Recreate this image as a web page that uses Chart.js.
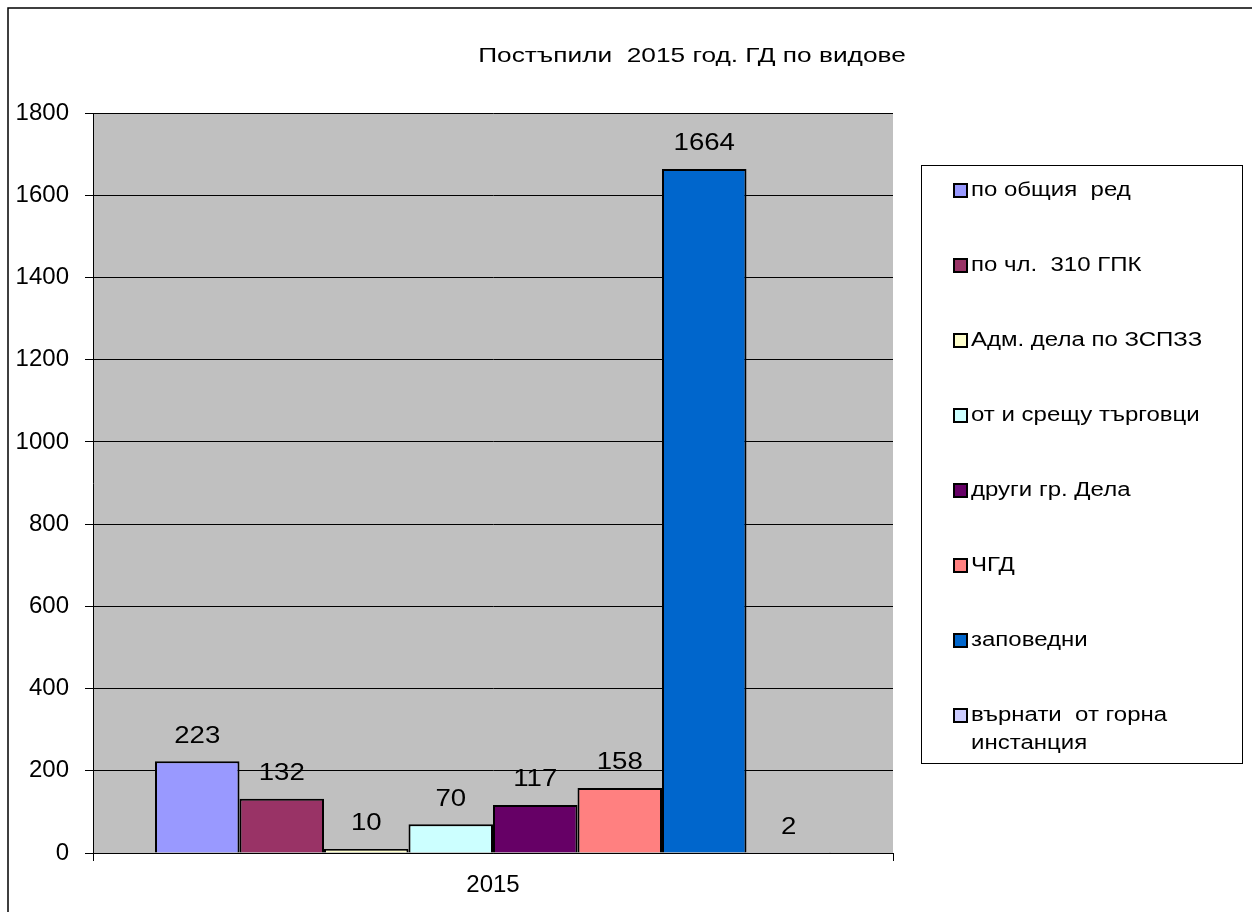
<!DOCTYPE html>
<html>
<head>
<meta charset="utf-8">
<script src="https://cdn.jsdelivr.net/npm/chart.js@4"></script>
<style>
  body { margin: 0; background: #fff; }
  #chart { display: block; }
</style>
</head>
<body>
<canvas id="chart" width="1252" height="912"></canvas>
<script>
// Данни за графиката
const chartTitle = 'Постъпили  2015 год. ГД по видове';
const categories = ['2015'];
const seriesNames = [
  'по общия  ред',
  'по чл.  310 ГПК',
  'Адм. дела по ЗСПЗЗ',
  'от и срещу търговци',
  'други гр. Дела',
  'ЧГД',
  'заповедни',
  'върнати  от горна инстанция'
];
const seriesValues = [223, 132, 10, 70, 117, 158, 1664, 2];
const seriesColors = ['#9999FF', '#993366', '#FFFFCC', '#CCFFFF', '#660066', '#FF8080', '#0066CC', '#CCCCFF'];
const yTicks = [0, 200, 400, 600, 800, 1000, 1200, 1400, 1600, 1800];

const FONT = 'Arial, "Liberation Sans", sans-serif';
const STRETCH = 1.2; // текстът в оригинала е разтеглен хоризонтално

// текст с хоризонтално разтягане
function wideText(ctx, text, x, y, k) {
  ctx.save();
  ctx.translate(x, y);
  ctx.scale(k || STRETCH, 1);
  ctx.fillText(text, 0, 0);
  ctx.restore();
}

// Сив фон на областта, рамка и заглавие
const backgroundPlugin = {
  id: 'plotBackground',
  beforeDraw(chart) {
    const { ctx, chartArea } = chart;
    ctx.save();
    ctx.fillStyle = '#C0C0C0';
    ctx.fillRect(chartArea.left, chartArea.top, chartArea.right - chartArea.left, chartArea.bottom - chartArea.top);
    ctx.strokeStyle = '#000';
    ctx.lineWidth = 1.5;
    ctx.beginPath();
    ctx.moveTo(8, chart.height);
    ctx.lineTo(8, 8);
    ctx.lineTo(chart.width, 8);
    ctx.stroke();
    ctx.fillStyle = '#000';
    ctx.font = '21px ' + FONT;
    ctx.textAlign = 'center';
    ctx.textBaseline = 'middle';
    wideText(ctx, chartTitle, 692, 56, 1.25);
    ctx.restore();
  }
};

// Стойности над стълбовете
const valueLabelsPlugin = {
  id: 'valueLabels',
  afterDatasetsDraw(chart) {
    const { ctx } = chart;
    ctx.save();
    ctx.fillStyle = '#000';
    ctx.font = '23px ' + FONT;
    ctx.textAlign = 'center';
    ctx.textBaseline = 'middle';
    chart.data.datasets.forEach((ds, i) => {
      const meta = chart.getDatasetMeta(i);
      meta.data.forEach((bar, j) => {
        wideText(ctx, String(ds.data[j]), bar.x, bar.y - 25);
      });
    });
    ctx.restore();
  }
};

// Легенда в рамка отдясно
const boxLegendPlugin = {
  id: 'boxLegend',
  afterDraw(chart) {
    const { ctx } = chart;
    const box = { x: 921.5, y: 165.5, w: 321, h: 598 };
    ctx.save();
    ctx.fillStyle = '#fff';
    ctx.fillRect(box.x, box.y, box.w, box.h);
    ctx.strokeStyle = '#000';
    ctx.lineWidth = 1;
    ctx.strokeRect(box.x, box.y, box.w, box.h);
    ctx.font = '20px ' + FONT;
    ctx.textBaseline = 'middle';
    ctx.textAlign = 'left';
    chart.data.datasets.forEach((ds, i) => {
      const cy = 190 + i * 75;
      ctx.fillStyle = ds.backgroundColor;
      ctx.fillRect(954, cy - 6, 13, 13);
      ctx.lineWidth = 2;
      ctx.strokeStyle = '#000';
      ctx.strokeRect(954, cy - 6, 13, 13);
      ctx.fillStyle = '#000';
      if (i === seriesNames.length - 1) {
        wideText(ctx, 'върнати  от горна', 971, cy);
        wideText(ctx, 'инстанция', 971, cy + 28);
      } else {
        wideText(ctx, ds.label, 971, cy);
      }
    });
    ctx.restore();
  }
};

const datasets = seriesNames.map((name, i) => ({
  label: name,
  data: [seriesValues[i]],
  backgroundColor: seriesColors[i],
  borderColor: '#000',
  borderWidth: 2,
  barPercentage: 1,
  categoryPercentage: 0.845
}));

new Chart(document.getElementById('chart'), {
  type: 'bar',
  data: { labels: categories, datasets: datasets },
  options: {
    responsive: false,
    animation: false,
    layout: { padding: { top: 113, right: 359, bottom: 0, left: 0 } },
    plugins: {
      legend: { display: false },
      title: { display: false },
      tooltip: { enabled: false }
    },
    scales: {
      x: {
        offset: true,
        grid: { display: true, drawOnChartArea: false, drawTicks: true, tickLength: 8, color: '#000', offset: true },
        border: { display: true, color: '#000', width: 1 },
        ticks: { color: '#000', font: { family: FONT, size: 24 }, padding: 10 },
        afterFit(scale) { scale.height = 59; }
      },
      y: {
        min: 0,
        max: 1800,
        afterBuildTicks(scale) { scale.ticks = yTicks.map(v => ({ value: v })); },
        grid: { color: '#000', lineWidth: 1, tickLength: 8, drawTicks: true },
        border: { display: true, color: '#000', width: 1 },
        ticks: {
          color: '#000',
          font: { family: FONT, size: 24 },
          padding: 16,
          callback: (value) => String(value)
        },
        afterFit(scale) { scale.width = 93; }
      }
    }
  },
  plugins: [backgroundPlugin, valueLabelsPlugin, boxLegendPlugin]
});
</script>
</body>
</html>
